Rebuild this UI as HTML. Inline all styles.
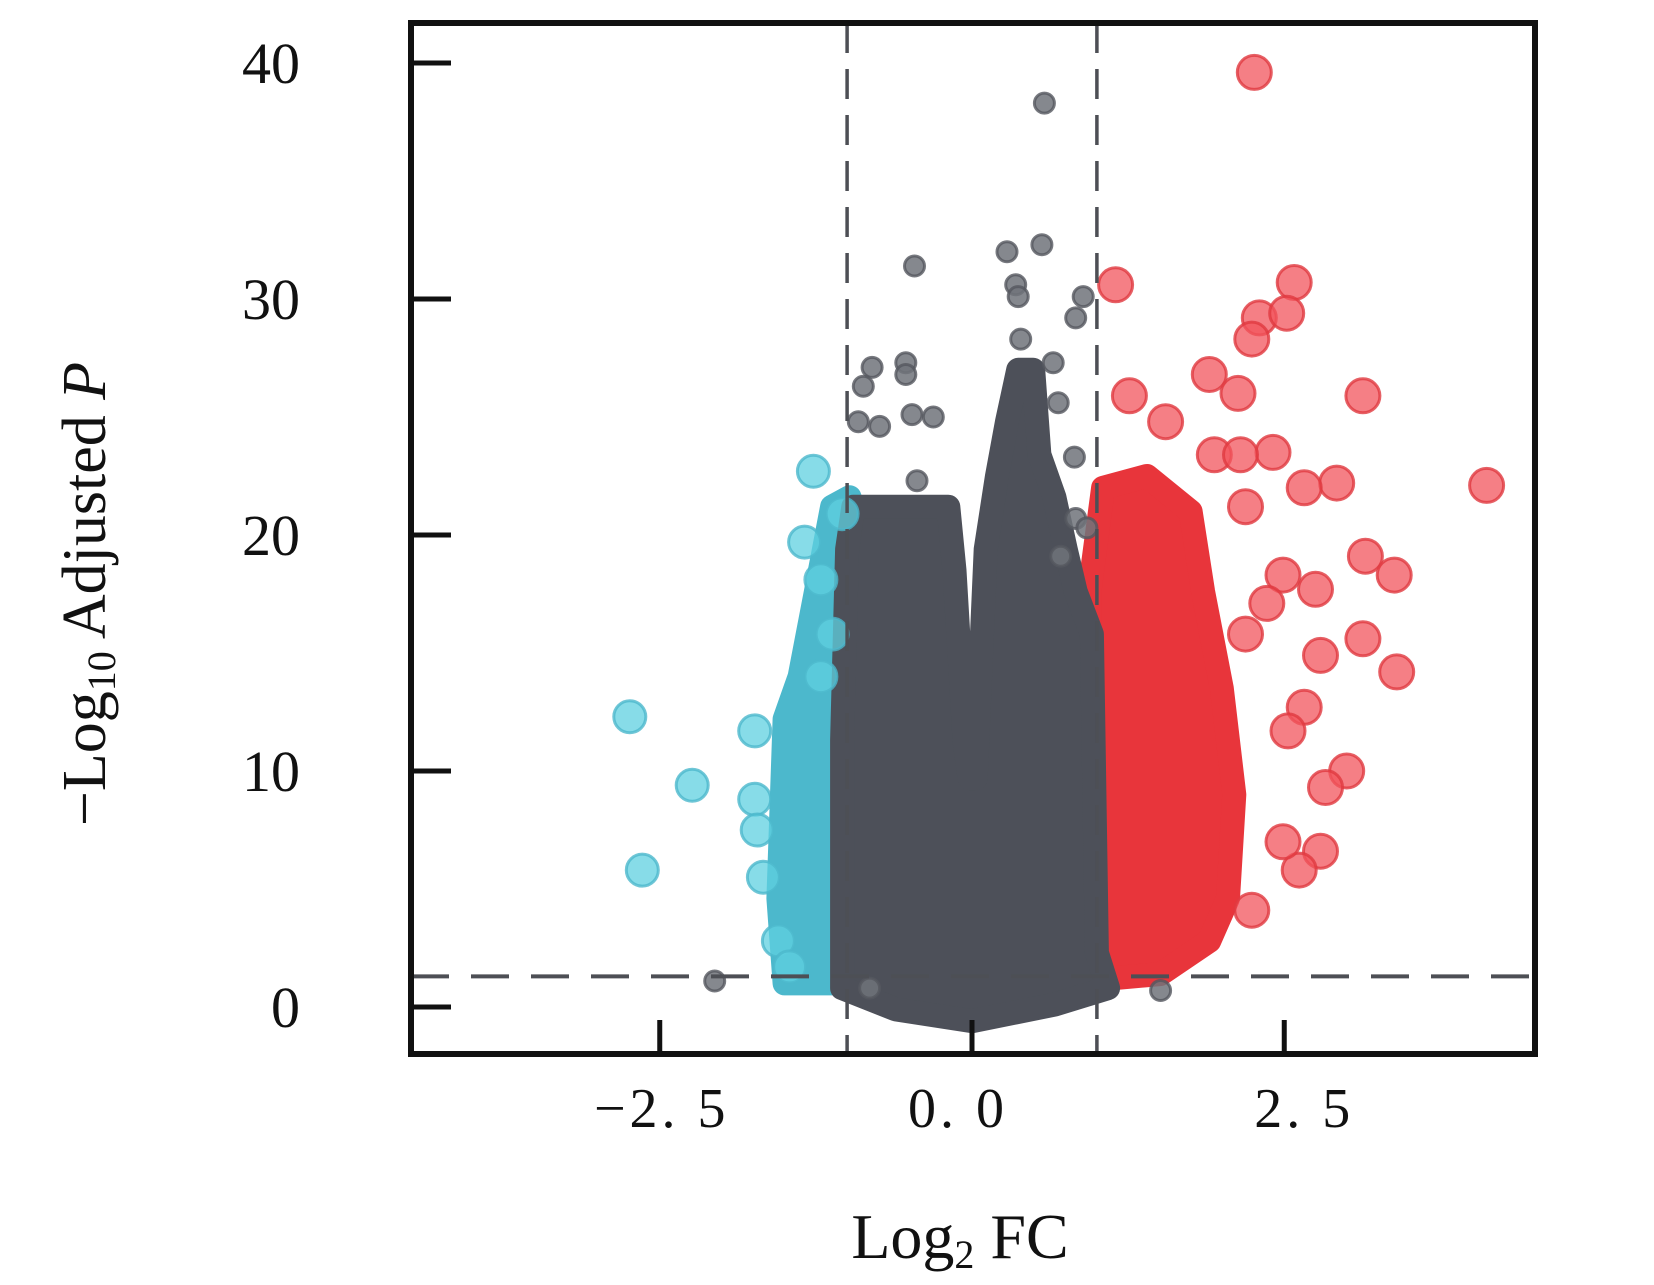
<!DOCTYPE html>
<html><head><meta charset="utf-8"><style>
html,body{margin:0;padding:0;background:#fff;}
svg{display:block;}
text{font-family:"Liberation Serif","Noto Serif CJK SC",serif;fill:#111;}
</style></head><body>
<svg id="chart" width="1654" height="1285" viewBox="0 0 1654 1285" xmlns="http://www.w3.org/2000/svg">
<g id="masses"></g>
<g id="pts"></g>
<g id="axes"></g>
</svg>
<script>
// ---- data (data units: log2FC, -log10 adj P) ----
const xTicks = [-2.5, 0.0, 2.5];
const xTickLabels = ["−2. 5", "0. 0", "2. 5"];
const yTicks = [0, 10, 20, 30, 40];
const yTickLabels = ["0", "10", "20", "30", "40"];
const fcThresholds = [-1, 1];
const pThreshold = 1.3;

// dense region envelopes
const grayEnvX = [-0.95,-0.19,-0.14,-0.06,-0.02,0.03,0.11,0.2,0.28,0.37,0.49,0.54,0.66,0.75,0.83,0.96,1.0,1.09,0.66,0,-0.61,-1.04,-1.04,-1.0];
const grayEnvY = [21.2,21.2,18.5,11.3,9.7,9.7,19.4,22.5,24.8,27,27,23.4,21.6,19.4,17.6,15.8,2.3,0.8,0.1,-0.6,-0.1,0.8,11.3,19.4];
const redEnvX = [0.94,0.94,1.05,1.4,1.75,1.85,2.0,2.1,2.05,1.9,1.51,1.09];
const redEnvY = [1,17.6,22.0,22.5,21.0,17.6,13.5,9,4.6,2.8,1.4,1.2];
const cyanEnvX = [-1.5,-1.55,-1.5,-1.38,-1.25,-1.12,-0.98,-0.98];
const cyanEnvY = [1,4.6,12.2,14,17.6,21.2,21.6,1];

// individual points
const redX = [2.26,1.15,2.58,2.30,2.52,2.24,3.13,1.90,2.13,4.12,2.92,2.66,2.41,3.15,3.38,3.13,3.40,2.79,2.75,2.49,2.66,2.53,3.0,2.83,2.79,2.62,2.49,2.24,1.26,1.55,1.94,2.15,2.19,2.36,2.19];
const redY = [39.6,30.6,30.7,29.2,29.4,28.3,25.9,26.8,26.0,22.1,22.2,22.0,23.5,19.1,18.3,15.6,14.2,14.9,17.7,18.3,12.7,11.7,10,9.3,6.6,5.8,7.0,4.1,25.9,24.8,23.4,23.4,21.2,17.1,15.8];
const cyanX = [-2.74,-2.24,-2.64,-1.74,-1.27,-1.34,-1.21,-1.74,-1.72,-1.67,-1.55,-1.46,-1.04,-1.12,-1.21];
const cyanY = [12.3,9.4,5.8,11.7,22.7,19.7,18.1,8.8,7.5,5.5,2.8,1.7,20.9,15.8,14];
const grayX = [0.58,0.56,0.28,-0.46,0.89,0.83,0.35,0.39,-0.80,-0.87,-0.53,-0.53,0.65,0.69,-0.91,-0.74,-0.48,-0.31,0.82,0.83,0.92,0.71,-2.06,1.51,-0.44,0.37,-0.82];
const grayY = [38.3,32.3,32.0,31.4,30.1,29.2,30.6,28.3,27.1,26.3,27.3,26.8,27.3,25.6,24.8,24.6,25.1,25.0,23.3,20.7,20.3,19.1,1.1,0.7,22.3,30.1,0.8];

// ---- scales ----
const L=411,T=23,R=1535,B=1054;
const X0=972, XS=124.9, Y0=1007, YS=23.6;
const sx = v => X0 + v*XS;
const sy = v => Y0 - v*YS;
const labelShift = [2, -14, 20]; // visual label offsets (px) seen in reference
const NS="http://www.w3.org/2000/svg";
function mk(tag, parent, attrs){const e=document.createElementNS(NS,tag);for(const k in attrs)e.setAttribute(k,attrs[k]);parent.appendChild(e);return e;}

const masses=document.getElementById('masses');
function envelope(xs, ys, color, name){
  const d = xs.map((x,i)=>(i?'L':'M')+sx(x).toFixed(1)+','+sy(ys[i]).toFixed(1)).join(' ')+'Z';
  const p = mk('path', masses, {d:d, fill:color, stroke:color, 'stroke-width':24, 'stroke-linejoin':'round'});
  
  
}
envelope(cyanEnvX, cyanEnvY, '#4cb8cc', 'down-regulated-cloud');
envelope(redEnvX, redEnvY, '#e8353b', 'up-regulated-cloud');
envelope(grayEnvX, grayEnvY, '#4d5059', 'not-significant-cloud');

const pts=document.getElementById('pts');
function dots(xs, ys, fill, stroke, r, op, name){
  xs.forEach((x,i)=>{
    const c = mk('circle', pts, {cx:sx(x).toFixed(1), cy:sy(ys[i]).toFixed(1), r:r, fill:fill, 'fill-opacity':op, stroke:stroke, 'stroke-width':3, 'stroke-opacity':0.8});
    
    
  });
}
dots(cyanX, cyanY, '#5fd0e0', '#4cb8cc', 16, 0.75, 'down-regulated-point');
dots(redX, redY, '#f2545c', '#e03a40', 17, 0.75, 'up-regulated-point');
dots(grayX, grayY, '#70737a', '#55585f', 10, 0.85, 'not-significant-point');

// ---- axes ----
const ax=document.getElementById('axes');
fcThresholds.forEach(v=>{
  const l=mk('line', ax, {x1:sx(v), x2:sx(v), y1:T, y2:B, stroke:'#4d4f55', 'stroke-width':3.5, 'stroke-dasharray':'30 16'});
  
  
});
const hl=mk('line', ax, {x1:L, x2:R, y1:sy(pThreshold), y2:sy(pThreshold), stroke:'#4d4f55', 'stroke-width':4, 'stroke-dasharray':'38 22'});



const box=mk('rect', ax, {x:L, y:T, width:R-L, height:B-T, fill:'none', stroke:'#111', 'stroke-width':6});



yTicks.forEach((v,i)=>{
  const t=mk('line', ax, {x1:L, x2:L+40, y1:sy(v), y2:sy(v), stroke:'#111', 'stroke-width':5});
  
  
  const tx=mk('text', ax, {x:300, y:sy(v)+20, 'text-anchor':'end', 'font-size':58});
  tx.textContent=yTickLabels[i];
  
  
});
xTicks.forEach((v,i)=>{
  const t=mk('line', ax, {x1:sx(v), x2:sx(v), y1:B, y2:B-34, stroke:'#111', 'stroke-width':5});
  
  
  const tx=mk('text', ax, {x:sx(v)+labelShift[i], y:1127, 'text-anchor':'middle', 'font-size':56, 'letter-spacing':4});
  tx.textContent=xTickLabels[i];
  
  
});

const xt=mk('text', ax, {x:960, y:1258, 'text-anchor':'middle', 'font-size':64});
xt.innerHTML='Log<tspan font-size="40" dy="10">2</tspan><tspan dy="-10"> FC</tspan>';



const yt=mk('text', ax, {x:0, y:0, 'text-anchor':'middle', 'font-size':62, transform:'translate(105,594) rotate(-90)'});
yt.innerHTML='−Log<tspan font-size="40" dy="10">10</tspan><tspan dy="-10"> Adjusted </tspan><tspan font-style="italic">P</tspan>';


</script>
</body></html>
